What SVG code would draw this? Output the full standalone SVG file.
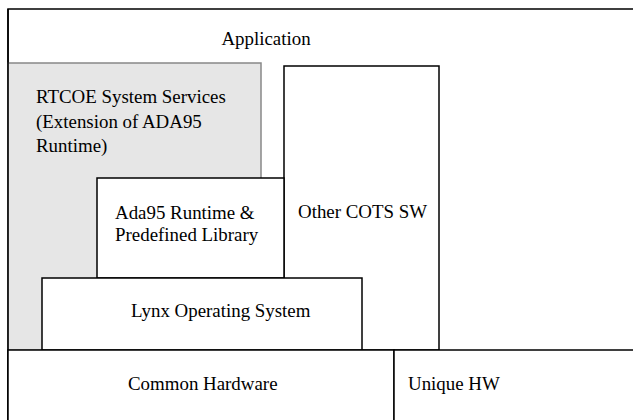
<svg xmlns="http://www.w3.org/2000/svg" width="633" height="420" viewBox="0 0 633 420">
<style>
.b{fill:#fff;stroke:#000;stroke-width:1.5}
.t{font-family:"Liberation Serif","Times New Roman",serif;font-size:18.9px;fill:#000}
</style>
<rect width="633" height="420" fill="#fff"/>
<g id="application">
<rect class="b" x="8" y="9" width="640" height="420"/>
<text class="t" x="266" y="45" text-anchor="middle">Application</text>
</g>
<g id="rtcoe">
<rect x="8" y="63" width="253" height="287" fill="#e6e6e6" stroke="#888" stroke-width="1.5"/>
<line x1="8" y1="9" x2="8" y2="420" stroke="#000" stroke-width="1.5"/>
<text class="t" x="36" y="103">RTCOE System Services</text>
<text class="t" x="36" y="127.5">(Extension of ADA95</text>
<text class="t" x="36" y="151.5">Runtime)</text>
</g>
<g id="cots">
<rect class="b" x="284" y="66" width="155" height="284"/>
<text class="t" x="298" y="218">Other COTS SW</text>
</g>
<g id="ada">
<rect class="b" x="97" y="178" width="187" height="100"/>
<text class="t" x="115" y="219">Ada95 Runtime &amp;</text>
<text class="t" x="115" y="241">Predefined Library</text>
</g>
<g id="lynx">
<rect class="b" x="42" y="278" width="320" height="72"/>
<text class="t" x="131" y="317">Lynx Operating System</text>
</g>
<g id="common-hw">
<rect class="b" x="8" y="350" width="386" height="80"/>
<text class="t" x="128" y="390">Common Hardware</text>
</g>
<g id="unique-hw">
<rect class="b" x="394" y="350" width="250" height="80"/>
<text class="t" x="408" y="390">Unique HW</text>
</g>
<g id="connectors"></g>
</svg>
